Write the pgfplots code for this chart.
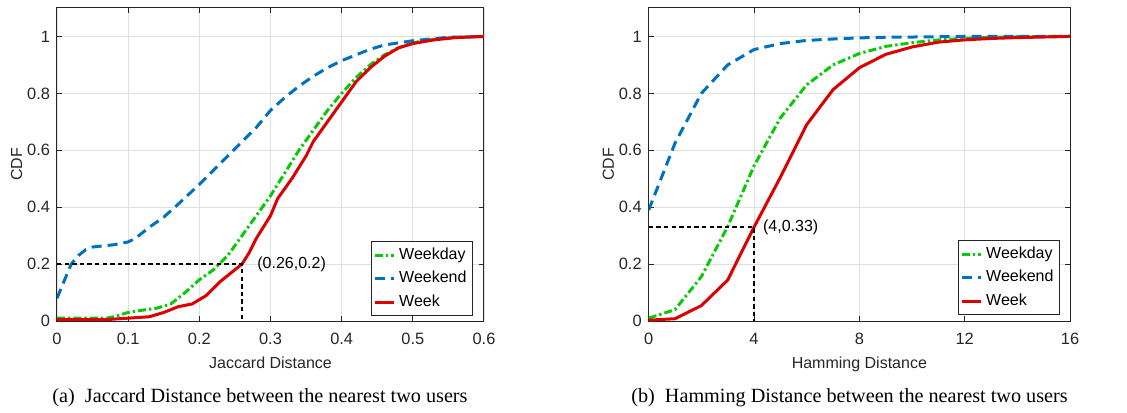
\documentclass[border=0pt]{standalone}
\usepackage{pgfplots}
\pgfplotsset{compat=1.18}
\usepackage{fontspec}
\setmainfont{Liberation Sans}
\newfontfamily\capfont{Liberation Serif}
\definecolor{cgreen}{RGB}{10,200,10}
\definecolor{cblue}{RGB}{0,114,189}
\definecolor{cred}{RGB}{220,0,0}
\definecolor{cax}{RGB}{38,38,38}
\pgfplotsset{mystyle/.style={
  scale only axis, height=156.5pt,
  ymin=0, ymax=1.1, ytick={0,0.2,0.4,0.6,0.8,1},
  yticklabels={0,0.2,0.4,0.6,0.8,1},
  grid=major, major grid style={black!12, line width=0.4pt},
  axis line style={cax, line width=0.5pt},
  tick style={cax, line width=0.5pt},
  tick align=inside, major tick length=2.5pt,
  xtick pos=both, ytick pos=both,
  ticklabel style={font=\fontsize{8.2}{9}\selectfont, text=cax},
  xticklabel style={yshift=-2.5pt},
  label style={font=\fontsize{8}{9}\selectfont, text=cax},
  xlabel style={yshift=1pt},
  ylabel style={yshift=-4.5pt},
  ylabel={CDF},
  /pgf/number format/assume math mode=true,
  legend style={font=\fontsize{8}{9}\selectfont, draw=cax, line width=0.5pt,
    at={(1,0)}, anchor=south east, inner sep=1pt, row sep=0.5pt},
  legend cell align=left,
  legend image code/.code={\draw[#1] (0pt,0pt) -- (9.5pt,0pt);},
  every axis plot/.append style={line width=1.5pt},
}}
\tikzset{
  wd/.style={cgreen, dash pattern=on 4pt off 1.5pt on 1.2pt off 1.5pt},
  we/.style={cblue, dash pattern=on 5pt off 3pt},
  wk/.style={cred},
  ann/.style={black, line width=0.7pt, dash pattern=on 2.2pt off 1.6pt},
}
\begin{document}
\begin{tikzpicture}
\begin{axis}[mystyle, width=213.5pt, xmin=0, xmax=0.6,
  xtick={0,0.1,0.2,0.3,0.4,0.5,0.6}, xticklabels={0,0.1,0.2,0.3,0.4,0.5,0.6},
  xlabel={Jaccard Distance},
  legend style={xshift=-5.5pt, yshift=2.5pt}]
\addplot[wd] coordinates {(0,0.01) (0.03,0.01) (0.07,0.01) (0.08,0.015) (0.1,0.03) (0.12,0.038) (0.14,0.045) (0.16,0.06) (0.18,0.1) (0.2,0.145) (0.22,0.18) (0.24,0.23) (0.26,0.3) (0.28,0.37) (0.3,0.44) (0.32,0.52) (0.34,0.6) (0.36,0.67) (0.38,0.74) (0.4,0.8) (0.42,0.855) (0.44,0.9) (0.46,0.935) (0.48,0.96) (0.5,0.978) (0.53,0.99) (0.56,0.997) (0.6,1)};
\addplot[we] coordinates {(0,0.08) (0.01,0.14) (0.02,0.2) (0.03,0.23) (0.04,0.25) (0.05,0.26) (0.08,0.268) (0.1,0.278) (0.11,0.29) (0.13,0.33) (0.15,0.365) (0.17,0.41) (0.2,0.48) (0.22,0.53) (0.24,0.58) (0.26,0.63) (0.28,0.68) (0.3,0.74) (0.32,0.785) (0.34,0.825) (0.36,0.86) (0.38,0.89) (0.4,0.915) (0.42,0.935) (0.44,0.955) (0.46,0.97) (0.5,0.985) (0.55,0.997) (0.6,1)};
\addplot[wk] coordinates {(0,0.005) (0.07,0.005) (0.1,0.01) (0.13,0.015) (0.15,0.03) (0.17,0.05) (0.19,0.06) (0.2,0.075) (0.21,0.09) (0.23,0.14) (0.24,0.16) (0.25,0.18) (0.26,0.2) (0.27,0.24) (0.28,0.29) (0.3,0.37) (0.31,0.43) (0.33,0.5) (0.35,0.58) (0.36,0.63) (0.38,0.7) (0.4,0.77) (0.42,0.84) (0.44,0.89) (0.46,0.93) (0.48,0.96) (0.5,0.975) (0.53,0.988) (0.56,0.996) (0.6,1)};
\legend{Weekday,Weekend,Week}
\draw[ann] (axis cs:0,0.2) -- (axis cs:0.26,0.2) -- (axis cs:0.26,0);
\node[anchor=west, font=\fontsize{8}{9}\selectfont, inner sep=0pt] at (axis cs:0.281,0.2) {(0.26,0.2)};
\end{axis}
\begin{axis}[mystyle, width=210.65pt, at={(295.85pt,0)}, xmin=0, xmax=16,
  xtick={0,4,8,12,16}, xticklabels={0,4,8,12,16},
  xlabel={Hamming Distance},
  legend style={xshift=-5pt, yshift=3pt}]
\addplot[wd] coordinates {(0,0.01) (1,0.04) (2,0.156) (3,0.332) (4,0.545) (5,0.714) (6,0.83) (7,0.9) (8,0.94) (9,0.965) (10,0.978) (11,0.988) (12,0.993) (13,0.997) (14,0.999) (15,1) (16,1)};
\addplot[we] coordinates {(0,0.39) (1,0.625) (2,0.8) (3,0.9) (4,0.954) (5,0.975) (6,0.986) (7,0.991) (8,0.995) (9,0.997) (10,0.998) (11,0.999) (12,1) (16,1)};
\addplot[wk] coordinates {(0,0.003) (1,0.008) (2,0.054) (3,0.144) (4,0.33) (5,0.505) (6,0.69) (7,0.813) (8,0.89) (9,0.937) (10,0.963) (11,0.98) (12,0.988) (13,0.993) (14,0.996) (15,0.998) (16,1)};
\legend{Weekday,Weekend,Week}
\draw[ann] (axis cs:0,0.33) -- (axis cs:4,0.33) -- (axis cs:4,0);
\node[anchor=west, font=\fontsize{8}{9}\selectfont, inner sep=0pt] at (axis cs:4.33,0.33) {(4,0.33)};
\end{axis}
\node[font=\capfont\fontsize{10.1}{12}\selectfont] at (101.5pt,-38.5pt) {(a)\hspace{0.5em}Jaccard Distance between the nearest two users};
\node[font=\capfont\fontsize{10.1}{12}\selectfont] at (396.25pt,-38.5pt) {(b)\hspace{0.5em}Hamming Distance between the nearest two users};
\pgfresetboundingbox
\path (-28.5pt,-45.5pt) rectangle (535pt,160.5pt);
\end{tikzpicture}
\end{document}
